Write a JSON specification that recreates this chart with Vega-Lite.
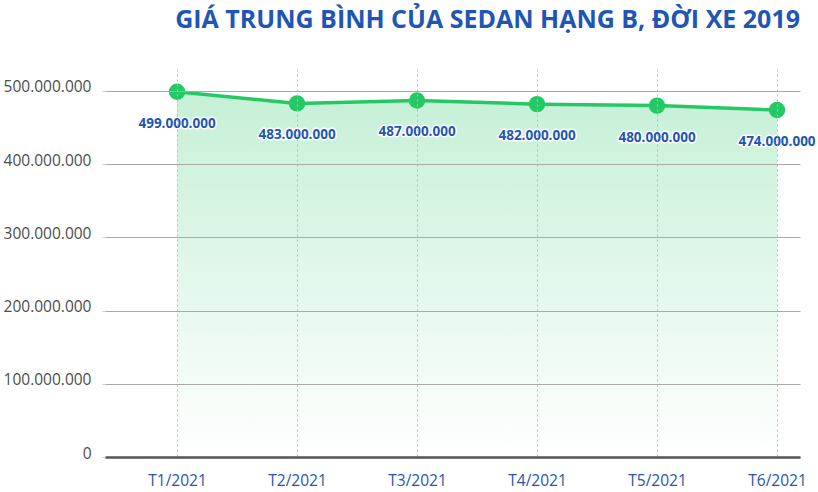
{
  "$schema": "https://vega.github.io/schema/vega-lite/v6.json",
  "width": 695,
  "height": 388,
  "autosize": "none",
  "padding": {"left": 105, "top": 69, "right": 18, "bottom": 35},
  "background": "white",
  "config": {
    "view": {"stroke": null},
    "font": "Open Sans",
    "locale": {
      "number": {"decimal": ",", "thousands": ".", "grouping": [3], "currency": ["", ""]}
    }
  },
  "title": {
    "text": "GIÁ TRUNG BÌNH CỦA SEDAN HẠNG B, ĐỜI XE 2019",
    "anchor": "end",
    "frame": "group",
    "font": "Open Sans",
    "fontSize": 25,
    "fontWeight": "bold",
    "color": "#1f56b3",
    "offset": 36
  },
  "data": {
    "values": [
      {"thang": "T1/2021", "gia": 499000000},
      {"thang": "T2/2021", "gia": 483000000},
      {"thang": "T3/2021", "gia": 487000000},
      {"thang": "T4/2021", "gia": 482000000},
      {"thang": "T5/2021", "gia": 480000000},
      {"thang": "T6/2021", "gia": 474000000}
    ]
  },
  "encoding": {
    "x": {
      "field": "thang",
      "type": "ordinal",
      "sort": null,
      "scale": {"type": "point", "padding": 0.396, "align": 0.758},
      "axis": {
        "title": null,
        "zindex": 1,
        "labelAngle": 0,
        "labelColor": "#1f56b3",
        "labelFontSize": 15.5,
        "labelPadding": 16,
        "ticks": false,
        "domainColor": "#555555",
        "domainWidth": 2.5,
        "grid": true,
        "gridColor": "#bbbbbb",
        "gridDash": [2, 3]
      }
    },
    "y": {
      "field": "gia",
      "type": "quantitative",
      "scale": {"domain": [0, 530000000]},
      "axis": {
        "title": null,
        "zindex": 1,
        "values": [0, 100000000, 200000000, 300000000, 400000000, 500000000],
        "format": ",d",
        "labelColor": "#4d4d4d",
        "labelFontSize": 15.5,
        "labelPadding": 11,
        "labelOffset": -4,
        "tickSize": 3,
        "tickColor": "#cccccc",
        "domain": false,
        "gridColor": "#aaaaaa"
      }
    }
  },
  "layer": [
    {
      "mark": {
        "type": "area",
        "fill": {
          "gradient": "linear",
          "x1": 1, "y1": 0, "x2": 1, "y2": 1,
          "stops": [
            {"offset": 0, "color": "#c5f0d6"},
            {"offset": 1, "color": "#ffffff"}
          ]
        }
      }
    },
    {"mark": {"type": "line", "color": "#26c866", "strokeWidth": 3.5}},
    {"mark": {"type": "circle", "color": "#26c866", "opacity": 1, "size": 270}},
    {
      "mark": {"type": "text", "dy": 32, "fontSize": 13.5, "fontWeight": "bold", "stroke": "white", "strokeWidth": 3, "strokeJoin": "round"},
      "encoding": {"text": {"field": "gia", "type": "quantitative", "format": ",d"}}
    },
    {
      "mark": {"type": "text", "dy": 32, "fontSize": 13.5, "fontWeight": "bold", "color": "#1f56b3"},
      "encoding": {"text": {"field": "gia", "type": "quantitative", "format": ",d"}}
    }
  ]
}
